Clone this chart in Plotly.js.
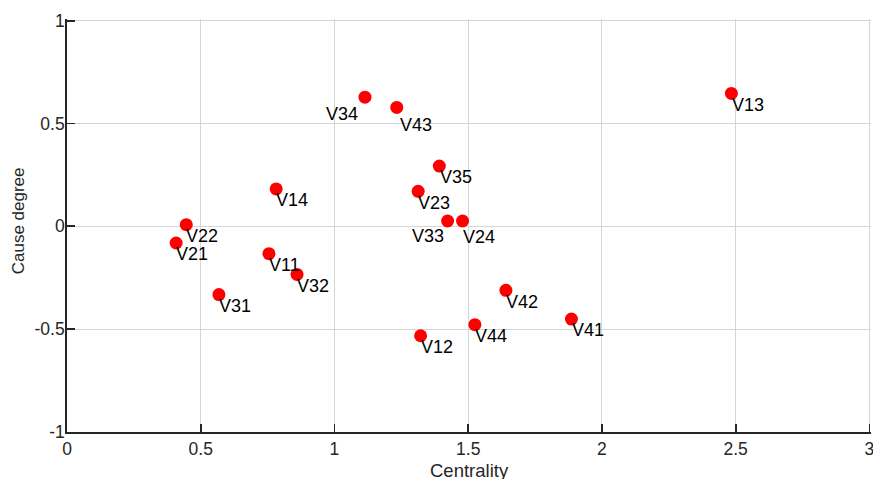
<!DOCTYPE html>
<html>
<head>
<meta charset="utf-8">
<script src="https://cdn.plot.ly/plotly-3.0.1.min.js"></script>
<style>html,body{margin:0;padding:0;background:#fff;}#chart{width:873px;height:479px;}</style>
</head>
<body>
<div id="chart"></div>
<script>
// Data
const labels = ["V11","V12","V13","V14","V21","V22","V23","V24","V31","V32","V33","V34","V35","V41","V42","V43","V44"];
const centrality = [0.755,1.322,2.484,0.782,0.408,0.446,1.313,1.479,0.568,0.860,1.423,1.114,1.392,1.886,1.641,1.233,1.525];
const causeDegree = [-0.133,-0.532,0.646,0.182,-0.081,0.008,0.170,0.026,-0.332,-0.234,0.026,0.628,0.293,-0.451,-0.311,0.578,-0.478];
const xTickVals = [0,0.5,1,1.5,2,2.5,3];
const xTickText = ["0","0.5","1","1.5","2","2.5","3"];
const yTickVals = [-1,-0.5,0,0.5,1];
const yTickText = ["-1","-0.5","0","0.5","1"];
const xTitle = "Centrality";
const yTitle = "Cause degree";

// Label placement (style): side and pixel offsets of cap-center below marker
const labelLeft = {"V33":true,"V34":true};
const labelDy = {"V43":17.7,"V24":16.5,"V33":15,"V34":16.7};
const labelDx = {"V43":4,"V33":-4,"V34":-7};

const FONT = "Arial, 'Liberation Sans', Helvetica, sans-serif";
const axisColor = "#262626";

const annotations = labels.map((t,i)=>{
  const left = !!labelLeft[t];
  const dy = labelDy[t] !== undefined ? labelDy[t] : 11.3;
  const dx = labelDx[t] !== undefined ? labelDx[t] : 0.7;
  return {
    x: centrality[i], y: causeDegree[i], xref:'x', yref:'y',
    text: t, showarrow:false,
    xanchor: left ? 'right' : 'left', yanchor:'middle',
    xshift: dx + (left ? 2.5 : -2.5), yshift: -dy,
    font:{family:FONT, size:18, color:'#000'}
  };
});

// axis titles
annotations.push({
  text:xTitle, xref:'paper', yref:'paper', x:0.5, y:0,
  xanchor:'center', yanchor:'top', yshift:-25.8, showarrow:false,
  font:{family:FONT, size:18.5, color:axisColor}
});
annotations.push({
  text:yTitle, xref:'paper', yref:'paper', x:0, y:0.5,
  xanchor:'center', yanchor:'middle', xshift:-48.7, yshift:4.5, textangle:-90, showarrow:false,
  font:{family:FONT, size:17, color:axisColor}
});

const trace = {
  type:'scatter', mode:'markers',
  x: centrality, y: causeDegree,
  marker:{color:'#ff0000', size:13, line:{width:0}},
  hoverinfo:'skip', showlegend:false
};

const layout = {
  width:873, height:479,
  margin:{l:66.7, r:1.7, t:19.1, b:47.3},
  paper_bgcolor:'#fff', plot_bgcolor:'#fff',
  font:{family:FONT, color:axisColor},
  showlegend:false,
  xaxis:{
    range:[0,3.006], tickmode:'array', tickvals:xTickVals, ticktext:xTickText,
    showgrid:true, gridcolor:'#d6d6d6', gridwidth:1, zeroline:false,
    showline:true, linecolor:axisColor, linewidth:1.8, mirror:false,
    ticks:'inside', ticklen:8, tickwidth:1.8, tickcolor:axisColor,
    ticklabeloverflow:'allow',
    tickfont:{family:FONT, size:17.5, color:axisColor},
    automargin:false
  },
  yaxis:{
    range:[-1,1.008], tickmode:'array', tickvals:yTickVals, ticktext:yTickText,
    showgrid:true, gridcolor:'#d6d6d6', gridwidth:1, zeroline:false,
    showline:true, linecolor:axisColor, linewidth:1.8, mirror:false,
    ticks:'inside', ticklen:8, tickwidth:1.8, tickcolor:axisColor,
    ticklabelstandoff:-3, ticklabeloverflow:'allow',
    tickfont:{family:FONT, size:17.5, color:axisColor},
    automargin:false
  },
  annotations: annotations
};

Plotly.newPlot('chart',[trace],layout,{displayModeBar:false, staticPlot:true});
</script>
</body>
</html>
